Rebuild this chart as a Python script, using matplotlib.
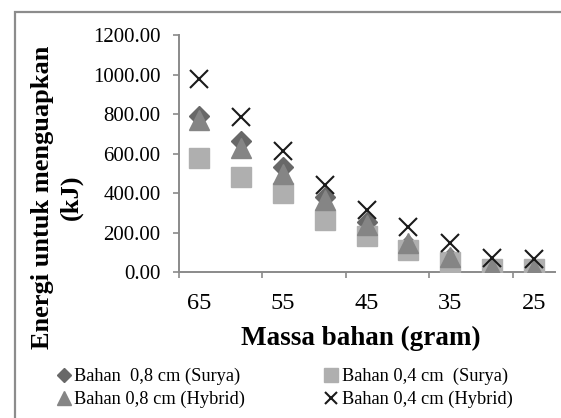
import matplotlib
matplotlib.use("Agg")
import matplotlib.pyplot as plt
from matplotlib.lines import Line2D
from matplotlib.patches import Rectangle

# ---- data ----
categories = ['65', '60', '55', '50', '45', '40', '35', '30', '25']
label_every = ['65', '', '55', '', '45', '', '35', '', '25']
bahan08_surya = [790, 665, 534, 382, 255, 140, 70, 15, 15]
bahan04_surya = [576, 484, 399, 263, 182, 113, 54, 15, 15]
bahan08_hybrid = [772, 627, 495, 366, 239, 148, 79, 20, 18]
bahan04_hybrid = [978, 787, 613, 441, 315, 231, 147, 71, 66]
series_labels = ['Bahan  0,8 cm (Surya)', 'Bahan 0,4 cm  (Surya)',
                 'Bahan 0,8 cm (Hybrid)', 'Bahan 0,4 cm (Hybrid)']
yticks = [0, 200, 400, 600, 800, 1000, 1200]

plt.rcParams['font.family'] = ['Liberation Serif', 'DejaVu Serif']

W, H = 561, 418
fig = plt.figure(figsize=(W / 100, H / 100), dpi=100)
fig.patch.set_facecolor('white')

# axes placement in pixels
ax_l, ax_r, ax_top, ax_bot = 178.5, 554.6, 35.0, 272.3
ax = fig.add_axes([ax_l / W, 1 - ax_bot / H, (ax_r - ax_l) / W, (ax_bot - ax_top) / H])

x = list(range(len(categories)))
c_dia, c_sq, c_tri, c_x = '#686868', '#afafaf', '#858585', '#1a1a1a'

ax.plot(x, bahan08_surya, linestyle='none', marker='D', ms=10.5, color=c_dia,
        mec=c_dia, label=series_labels[0], zorder=3)
ax.plot(x, bahan04_surya, linestyle='none', marker='s', ms=14.5, color=c_sq,
        mec=c_sq, label=series_labels[1], zorder=4)
ax.plot(x, bahan08_hybrid, linestyle='none', marker='^', ms=14.5, color=c_tri,
        mec=c_tri, label=series_labels[2], zorder=5)
ax.plot(x, bahan04_hybrid, linestyle='none', marker='x', ms=12.5, mew=1.5, color=c_x,
        label=series_labels[3], zorder=6)

ax.set_xlim(-0.5, len(categories) - 0.5)
ax.set_ylim(0, 1200)
ax.set_yticks(yticks)
ax.set_yticklabels([f'{v:.2f}' for v in yticks])
ax.set_xticks(x)
ax.set_xticklabels(label_every)
ax.set_xticks([i - 0.5 for i in range(0, len(categories), 2)], minor=True)

axis_col = '#8a8a8a'
for s in ['top', 'right']:
    ax.spines[s].set_visible(False)
for s in ['left', 'bottom']:
    ax.spines[s].set_color(axis_col)
    ax.spines[s].set_linewidth(1.4)
ax.tick_params(axis='y', which='major', length=4, width=1.2, color=axis_col,
               labelsize=15, pad=9)
ax.tick_params(axis='x', which='major', length=0, labelsize=17.5, pad=15)
ax.tick_params(axis='x', which='minor', length=4, width=1.2, color=axis_col)
ax.set_facecolor('white')

# axis titles
fig.text(361 / W, 1 - 345 / H, 'Massa bahan (gram)', ha='center', va='baseline',
         fontsize=19.5, fontweight='bold')
fig.text(57 / W, 1 - 197 / H, 'Energi untuk menguapkan\n(kJ)', ha='center', va='center',
         rotation=90, fontsize=19, fontweight='bold', linespacing=1.3,
         multialignment='center')

# legend
h = [Line2D([], [], ls='none', marker='D', ms=7.5, color=c_dia),
     Line2D([], [], ls='none', marker='^', ms=9.5, color=c_tri),
     Line2D([], [], ls='none', marker='s', ms=9.5, color=c_sq),
     Line2D([], [], ls='none', marker='x', ms=8.5, mew=1.5, color=c_x)]
l = [series_labels[0], series_labels[2], series_labels[1], series_labels[3]]
fig.legend(h, l, ncol=2, loc='upper left', bbox_to_anchor=(57 / W, 1 - 368 / H),
           frameon=False, fontsize=13.2, handlelength=0.8, handletextpad=0.15,
           columnspacing=4.3, labelspacing=0.3, borderpad=0, borderaxespad=0)

# chart border (extends beyond right/bottom edge)
fig.add_artist(Rectangle((15.2 / W, -0.2), 2, (1 - 11.8 / H) + 0.2,
                         transform=fig.transFigure, fill=False,
                         edgecolor='#8c8c8c', linewidth=1.6))

fig.savefig('out.png', dpi=100, facecolor='white')
